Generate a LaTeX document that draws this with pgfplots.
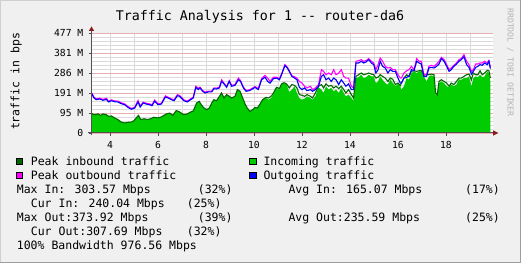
\documentclass[border=0pt]{standalone}
\usepackage{pgfplots}
\pgfplotsset{compat=1.18}
\usepackage{pgfplotstable}
\usepackage{fontspec}
\setmainfont{DejaVu Sans Mono}
\definecolor{bg}{HTML}{F0F0F0}
\definecolor{shadeA}{HTML}{CFCFCF}
\definecolor{shadeB}{HTML}{9E9E9E}
\definecolor{gridminor}{HTML}{DADADA}
\definecolor{gridmajor}{HTML}{E6B0B0}
\definecolor{axiscol}{HTML}{505050}
\definecolor{arrowcol}{HTML}{8B1A1A}
\definecolor{ingreen}{HTML}{00CC00}
\definecolor{pkin}{HTML}{006600}
\definecolor{pkout}{HTML}{FF00FF}
\definecolor{outblue}{HTML}{0000FF}
\definecolor{credit}{HTML}{B4B4B4}

\pgfplotstableread{
x in pin
3.25 92 92
3.36 87 87
3.50 91 91
3.61 84 84
3.71 91 91
3.85 87 87
3.94 80 80
4.06 81 81
4.19 72 72
4.33 64 64
4.47 52 52
4.61 48 48
4.75 51 51
4.89 52 52
5.00 59 59
5.14 78 78
5.19 84 84
5.28 64 64
5.42 68 68
5.56 64 64
5.69 68 68
5.83 75 75
5.97 72 72
6.11 75 75
6.25 84 84
6.35 91 91
6.49 95 95
6.62 84 84
6.76 107 107
6.86 103 103
6.97 95 95
7.08 87 87
7.22 91 91
7.36 100 100
7.47 105 105
7.61 143 143
7.72 151 151
7.82 132 132
7.92 119 119
8.03 111 111
8.14 119 119
8.24 143 143
8.33 159 159
8.44 154 154
8.56 175 175
8.65 191 191
8.75 167 167
8.86 183 183
8.97 175 175
9.07 167 167
9.21 175 175
9.31 207 207
9.42 199 199
9.53 167 167
9.63 138 138
9.72 119 119
9.83 103 103
9.94 111 111
10.04 122 122
10.14 119 119
10.25 138 138
10.36 159 159
10.50 167 170
10.61 159 167
10.74 170 178
10.83 191 195
10.94 215 218
11.06 207 212
11.15 231 234
11.25 238 240
11.36 231 234
11.47 196 215
11.58 207 231
11.69 223 227
11.79 191 215
11.89 167 183
12.00 159 180
12.11 164 175
12.21 175 183
12.35 167 175
12.44 159 167
12.56 175 191
12.69 218 223
12.81 207 231
12.90 191 215
13.00 223 234
13.11 207 223
13.22 215 227
13.32 199 215
13.42 207 223
13.53 191 212
13.64 215 223
13.74 191 207
13.83 175 191
13.94 183 207
14.06 167 183
14.15 154 167
14.25 262 270
14.36 266 278
14.47 278 286
14.57 262 278
14.67 266 281
14.78 278 286
14.89 270 281
14.99 270 278
15.08 238 262
15.17 246 266
15.26 270 278
15.36 254 270
15.47 238 262
15.58 231 246
15.68 256 262
15.78 240 256
15.89 223 231
16.00 234 238
16.10 223 227
16.14 207 238
16.25 223 262
16.36 262 278
16.46 254 270
16.56 286 294
16.67 294 297
16.78 286 294
16.88 294 297
16.97 294 297
17.08 270 278
17.19 246 278
17.29 270 278
17.39 275 281
17.50 270 278
17.57 183 191
17.64 183 183
17.71 238 246
17.81 246 254
17.92 238 246
18.03 223 238
18.13 218 223
18.22 231 238
18.33 223 231
18.44 231 246
18.54 256 262
18.64 254 262
18.75 262 270
18.86 262 278
18.96 270 281
19.06 223 254
19.14 262 286
19.24 270 278
19.33 266 278
19.42 278 297
19.51 266 278
19.61 270 286
19.72 294 299
19.79 286 297
19.85 246 262
}\intab

\pgfplotstableread{
x out pout
3.25 186 190
3.33 167 171
3.43 159 163
3.57 162 166
3.71 156 160
3.85 160 166
3.94 148 152
4.06 154 158
4.19 149 153
4.33 148 152
4.47 140 144
4.61 135 139
4.75 122 126
4.89 113 117
5.03 119 123
5.17 148 155
5.26 124 128
5.38 143 147
5.51 138 142
5.65 135 139
5.75 130 134
5.86 151 157
6.00 135 139
6.14 138 142
6.31 172 177
6.42 167 171
6.56 159 163
6.67 154 158
6.81 178 183
6.90 175 179
6.97 167 171
7.08 154 158
7.22 148 152
7.36 159 163
7.47 167 171
7.58 218 223
7.68 207 213
7.75 215 219
7.86 199 203
7.96 191 195
8.10 196 200
8.24 196 200
8.33 211 215
8.44 210 214
8.56 215 219
8.65 246 254
8.75 234 238
8.86 218 222
8.97 246 250
9.07 223 227
9.21 227 231
9.35 254 262
9.44 246 250
9.56 215 219
9.67 199 203
9.81 202 206
9.94 210 214
10.04 218 222
10.18 207 213
10.32 254 260
10.46 266 275
10.57 246 262
10.67 238 246
10.81 259 266
10.94 262 266
11.06 254 260
11.15 278 282
11.29 322 326
11.39 310 314
11.47 294 298
11.58 270 273
11.69 262 268
11.79 254 262
11.89 218 246
12.00 207 238
12.11 215 223
12.21 202 215
12.35 207 223
12.44 199 207
12.56 207 215
12.69 223 231
12.81 270 302
12.90 278 294
13.00 254 278
13.11 262 286
13.22 246 278
13.32 262 302
13.42 254 278
13.53 231 286
13.64 254 302
13.74 238 270
13.83 223 262
13.94 234 262
14.06 207 223
14.15 207 215
14.25 334 342
14.36 334 345
14.47 342 350
14.57 334 342
14.67 339 345
14.78 350 355
14.89 334 342
14.99 326 334
15.08 286 302
15.17 302 326
15.26 342 358
15.36 318 342
15.47 310 318
15.58 286 310
15.68 302 313
15.78 294 302
15.89 294 302
16.00 262 278
16.10 238 262
16.14 238 262
16.25 262 286
16.36 266 297
16.46 270 302
16.56 302 318
16.67 297 302
16.78 342 355
16.88 334 342
16.97 329 342
17.08 270 278
17.19 270 278
17.29 310 318
17.39 313 323
17.50 310 318
17.61 318 329
17.71 329 342
17.81 355 361
17.92 342 350
18.03 318 326
18.13 294 302
18.22 302 310
18.33 318 323
18.44 329 334
18.54 342 350
18.64 350 355
18.75 364 374
18.86 326 342
18.96 313 326
19.06 281 294
19.14 294 302
19.24 313 329
19.33 318 329
19.42 326 334
19.51 323 334
19.61 334 342
19.72 326 334
19.79 342 346
19.85 307 313
}\outtab

\begin{document}
\begin{tikzpicture}
\fill[bg] (0bp,0bp) rectangle (521bp,263bp);
\draw[shadeA, line width=1bp] (0.5bp,0bp) -- (0.5bp,262.5bp) -- (521bp,262.5bp);
\draw[shadeB, line width=1bp] (0bp,0.5bp) -- (520.5bp,0.5bp) -- (520.5bp,263bp);
\begin{axis}[
  at={(91.5bp,130bp)}, anchor=south west,
  scale only axis, width=401.5bp, height=100bp,
  xmin=3.23, xmax=19.96, ymin=0, ymax=477,
  axis background/.style={fill=white},
  axis x line*=bottom, axis y line*=left,
  axis line style={draw=none},
  xtick={4,6,...,18},
  xticklabels={4,6,8,10,12,14,16,18},
  minor xtick={5,7,...,19},
  ytick={0,95.4,190.8,286.2,381.6,477},
  yticklabels={0,95 M,191 M,286 M,381 M,477 M},
  minor y tick num=4,
  grid=both,
  major x grid style={gridminor, line width=0.8bp},
  minor x grid style={gridminor, line width=0.8bp},
  major y grid style={gridmajor, line width=0.8bp},
  minor y grid style={gridminor, line width=0.8bp},
  tick align=outside,
  major tick length=3bp, minor tick length=0bp,
  tick style={axiscol, line width=0.8bp},
  tick label style={font=\fontsize{9.7bp}{11bp}\selectfont, inner sep=0pt},
  xticklabel style={anchor=north, yshift=-5bp},
  yticklabel style={anchor=east, xshift=-5bp},
  /pgf/number format/assume math mode=true,
  no markers,
]
\addplot[draw=none, fill=ingreen] table[x=x, y=in]{\intab} \closedcycle;
\addplot[pkin, line width=1.1bp] table[x=x, y=pin]{\intab};
\addplot[pkout, line width=1.1bp] table[x=x, y=pout]{\outtab};
\addplot[outblue, line width=1.1bp] table[x=x, y=out]{\outtab};
\end{axis}
\begin{scope}[x=1bp, y=1bp]
% axis lines and arrows
\draw[axiscol, line width=1bp] (91.5,128) -- (91.5,232);
\draw[axiscol, line width=1bp] (88,130) -- (493,130);
\fill[arrowcol] (88.8,232) -- (94.2,232) -- (91.5,236.5) -- cycle;
\fill[arrowcol] (493,127.3) -- (493,132.7) -- (498.5,130) -- cycle;
% title and labels
\node[anchor=base, inner sep=0pt, font=\fontsize{13.3bp}{15bp}\selectfont] at (260,242.3) {Traffic Analysis for 1 -{}- router-da6};
\node[rotate=90, anchor=base, inner sep=0pt, font=\fontsize{11.5bp}{13bp}\selectfont] at (19.3,181.5) {traffic in bps};
\node[rotate=-90, anchor=base, inner sep=0pt, text=credit, font=\fontsize{8.2bp}{9bp}\selectfont] at (507.5,200.5) {RRDTOOL / TOBI OETIKER};
% legend
\begin{scope}[every node/.style={anchor=base west, inner sep=0pt, font=\fontsize{11.5bp}{13bp}\selectfont}]
\filldraw[fill=pkin, draw=black, line width=0.6bp] (16.3,98.5) rectangle (22.7,104.9);
\node at (30.7,98) {Peak inbound traffic};
\filldraw[fill=ingreen, draw=black, line width=0.6bp] (249.6,98.5) rectangle (256,104.9);
\node at (263.3,98) {Incoming traffic};
\filldraw[fill=pkout, draw=black, line width=0.6bp] (16.3,84.4) rectangle (22.7,90.8);
\node at (30.7,83.9) {Peak outbound traffic};
\filldraw[fill=outblue, draw=black, line width=0.6bp] (249.6,84.4) rectangle (256,90.8);
\node at (263.3,83.9) {Outgoing traffic};
\node at (16.7,69.8) {Max In: 303.57 Mbps};
\node at (197.7,69.8) {(32\%)};
\node at (288.3,69.8) {Avg In: 165.07 Mbps};
\node at (465,69.8) {(17\%)};
\node at (30.7,55.7) {Cur In: 240.04 Mbps};
\node at (186.7,55.7) {(25\%)};
\node at (16.7,41.6) {Max Out:373.92 Mbps};
\node at (197.7,41.6) {(39\%)};
\node at (288.3,41.6) {Avg Out:235.59 Mbps};
\node at (465,41.6) {(25\%)};
\node at (30.7,27.5) {Cur Out:307.69 Mbps};
\node at (186.7,27.5) {(32\%)};
\node at (16.7,13.5) {100\% Bandwidth 976.56 Mbps};
\end{scope}
\end{scope}
\pgfresetboundingbox
\useasboundingbox (0bp,0bp) rectangle (521bp,263bp);
\end{tikzpicture}
\end{document}
